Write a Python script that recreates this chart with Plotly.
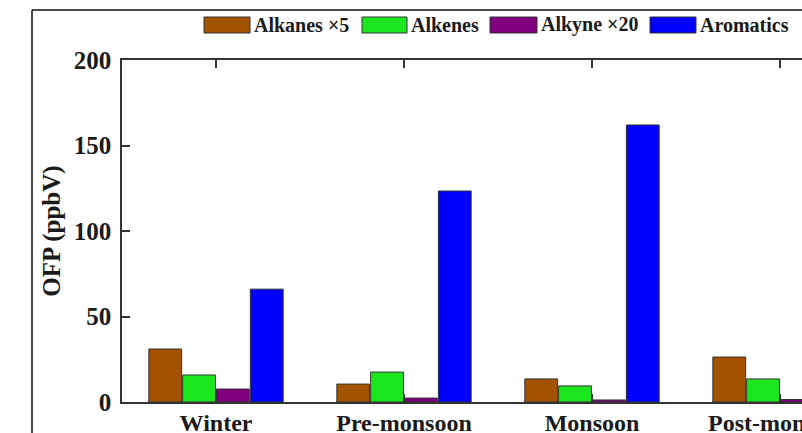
import plotly.graph_objects as go

seasons = ["Winter", "Pre-monsoon", "Monsoon", "Post-monsoon"]
series_names = ["Alkanes ×5", "Alkenes", "Alkyne ×20", "Aromatics"]
alkanes = [31.0, 10.5, 13.5, 26.3]
alkenes = [15.8, 17.5, 9.4, 13.5]
alkyne = [7.6, 2.3, 1.2, 1.5]
aromatics = [66.0, 123.4, 162.0, 95.0]
colors = ["#A35200", "#1EE61E", "#800080", "#0000FF"]
yticks = [0, 50, 100, 150, 200]

W, H = 802, 433
L, R, T, B = 122, 0, 60, 31
PW, PH = W - L - R, H - T - B

def xp(px):
    return (px - L) / PW

def yp(py):
    return (H - B - py) / PH

font_family = "Liberation Serif"
txt_color = "#1a1a1a"

fig = go.Figure()
for name, vals, c in zip(series_names, [alkanes, alkenes, alkyne, aromatics], colors):
    fig.add_trace(go.Bar(
        x=seasons, y=vals, name=name,
        marker=dict(color=c, line=dict(color="#333333", width=1)),
        showlegend=False,
    ))

# manual legend
legend_boxes = [(204, 250), (362, 407), (490, 537), (650, 696)]
shapes = []
annotations = []
for (x0, x1), name, c in zip(legend_boxes, series_names, colors):
    shapes.append(dict(type="rect", xref="paper", yref="paper",
                       x0=xp(x0), x1=xp(x1), y0=yp(33), y1=yp(17),
                       fillcolor=c, line=dict(color="#333333", width=1)))
    annotations.append(dict(xref="paper", yref="paper", x=xp(x1 + 2), y=yp(25),
                            xanchor="left", yanchor="middle", text=name, showarrow=False,
                            font=dict(family=font_family, size=20, color=txt_color, weight="bold")))

# outer frame lines (figure is cropped on right/bottom)
shapes.append(dict(type="line", xref="paper", yref="paper",
                   x0=xp(32), x1=xp(W + 5), y0=yp(10), y1=yp(10),
                   line=dict(color="#111111", width=1.5)))
shapes.append(dict(type="line", xref="paper", yref="paper",
                   x0=xp(32), x1=xp(32), y0=yp(10), y1=yp(H + 5),
                   line=dict(color="#111111", width=1.5)))

fig.update_layout(
    width=W, height=H,
    margin=dict(l=L, r=R, t=T, b=B, pad=0, autoexpand=False),
    paper_bgcolor="white", plot_bgcolor="white",
    barmode="group", bargap=0.28, bargroupgap=0.03,
    font=dict(family=font_family, size=20, color=txt_color),
    shapes=shapes, annotations=annotations,
    xaxis=dict(
        range=[-0.5, (W - R - L) / 188 - 0.5],
        automargin=False,
        showline=True, linecolor="#333333", linewidth=1.5, mirror="ticks",
        ticks="inside", ticklen=8, tickcolor="#333333", tickwidth=1.5,
        tickfont=dict(family=font_family, size=24, color=txt_color, weight="bold"),
        ticklabelstandoff=-2,
        showgrid=False, zeroline=False,
    ),
    yaxis=dict(
        range=[0, 200], tickvals=yticks,
        automargin=False,
        showline=True, linecolor="#333333", linewidth=1.5,
        ticks="inside", ticklen=8, tickcolor="#333333", tickwidth=1.5,
        tickfont=dict(family=font_family, size=25, color=txt_color, weight="bold"),
        ticklabelstandoff=4,
        showgrid=False, zeroline=False,
        title=dict(text="OFP (ppbV)", font=dict(family=font_family, size=25, weight="bold"), standoff=6),
    ),
)

fig.write_html(
    "out.html",
    config={"displayModeBar": False},
    post_script="document.body.style.margin='0';document.body.style.overflow='hidden';",
)
